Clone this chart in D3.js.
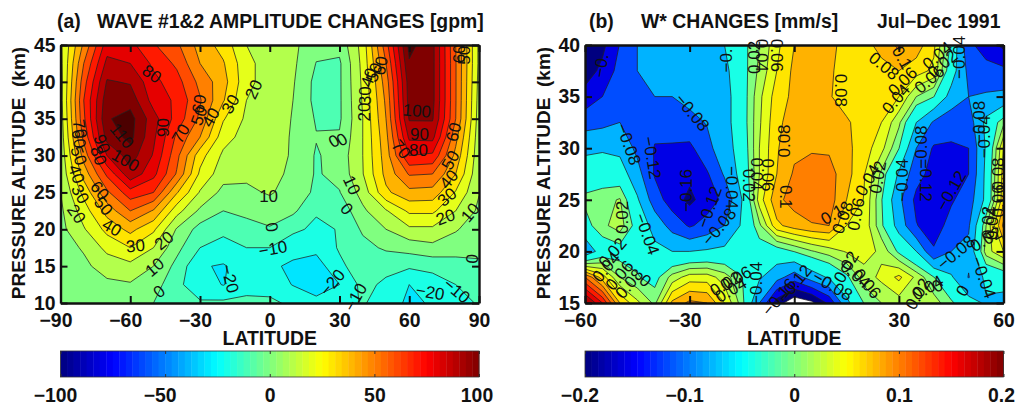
<!DOCTYPE html>
<html><head><meta charset="utf-8">
<style>html,body{margin:0;padding:0;background:#fff}svg{display:block}text{font-family:"Liberation Sans",Arial,sans-serif;fill:#111}</style>
<script src="https://cdnjs.cloudflare.com/ajax/libs/d3/7.8.5/d3.min.js"></script>
</head><body><svg id="c" width="1024" height="407"></svg>
<script>
// Panel (a): wave amplitude change, one list per latitude, bottom (10 km) to top (45 km)
const ampAlts = [10,12.5,15,17.5,20,22.5,25,27.5,30,32.5,35,37.5,40,42.5,45];
const ampLats = [-90,-80,-70,-60,-50,-40,-30,-20,-10,0,10,20,30,40,50,60,70,80,90];
const ampColumns = [
 [5,5,5,6,7,8,10,12,13,14,15,16,16,17,18],
 [6,7,8,11,19,25,33,44,54,63,68,70,66,60,52],
 [5,8,14,23,33,44,58,72,90,104,109,106,101,93,85],
 [4,9,17,30,43,60,76,97,105,113,114,106,99,90,83],
 [0,5,10,20,32,49,70,83,89,92,94,86,83,78,71],
 [-8,-8,-3,3,9,24,41,59,63,68,76,78,74,68,62],
 [-9,-15,-19,-10,-4,8,19,28,34,50,58,61,57,50,46],
 [-8,-20.5,-21,-13,-8,0,7,14,18,24,31,41,44,41,36],
 [-8,-13,-15,-10,-3,2,8,12,14,16,18,20,23,23,20],
 [-8,-14,-18,-10,-1,5,11,13,14,15,15,15,15,15,14],
 [-12,-20.5,-22,-16,-8,2,6,8,9,9,9.5,10,11,12,12.5],
 [-17,-25,-25,-17,-12,-9,-2,-1,-1,0.5,-1,-3,-3,-0.3,3],
 [-15,-20,-12,-9,-9.5,-7,-0.5,3,4,1,-1.5,-1.5,-1.5,-1.5,3],
 [-9,-7,-5,-3,1.5,8,14,19.5,20,20,20,21,22,23,24],
 [-15,-12,-7,1.5,10,19,38,43,45,47,50,52,55,60,66],
 [-22,-20,-8.5,4,18,32,47,61,80,92,101,104,105,109,113],
 [-19,-15,-7,7,18,32,46,60,78,93,101,103,103,103,103],
 [-12,-10,-4,4,11,20,29,40,47,53,60,60.5,60.5,60.5,60],
 [-9.5,-5,-1,1.5,4,8,10.5,12,13,14,15,16,17,18,18]
];
const ampLevels = [-30,-20,-10,0,10,20,30,40,50,60,70,80,90,100,110];
const ampXTicks = [-90,-60,-30,0,30,60,90];
const ampYTicks = [10,15,20,25,30,35,40,45];
const ampBarTicks = [-100,-50,0,50,100];
const ampLabels = [
 ["80",-50.6,41.1,35],["90",-46,33.8,-90],["70",-38.4,33,-60],["60",-30.5,37,-80],["50",-30.5,35.4,-70],
 ["40",-25.5,35.2,-60],["30",-17,37,-60],["20",-7,39,-65],["110",-63.5,32.7,50],["100",-62,29.4,30],
 ["90",-72,31.6,70],["80",-73.5,30,70],["70",-81.5,33.6,80],["60",-82,32.3,80],["50",-82,30,70],
 ["40",-83,27.5,70],["30",-81.4,24.8,60],["20",-83,22.1,55],["60",-73,25.3,50],["50",-71.4,23.2,50],
 ["40",-67.8,20.3,30],["30",-57.8,17.8,-5],["20",-45.6,18.5,-40],["10",-49.6,14.9,-40],["0",-47.7,11.6,-40],
 ["\u221220",-17,13.3,75],["10",-0.5,24.6,0],["0",1,20.3,80],["\u221210",1.3,17.4,-10],["\u221220",26.8,12.8,-50],
 ["\u221210",36.8,10.8,-60],["0",27.5,32,-30],["0",31,32.2,-30],["10",35.4,26,65],["0",33.2,22.8,50],
 ["20",40.3,35.9,-90],["30",41,38.1,-90],["40",42.5,40.6,-70],["50",44.7,41.3,-70],["60",47.5,42.2,-80],
 ["100",63.3,36.1,5],["90",64.4,32.9,0],["80",64,30.8,0],["70",56.6,30.9,50],["60",79,33.2,-75],
 ["50",77.6,29.4,-60],["40",76.9,26.8,-50],["30",76.2,24.4,-40],["20",75.5,21.7,-20],["10",86.2,22.3,-50],
 ["0",86.9,16,-85],["\u221220",69,11.5,10],["\u221210",80.5,11.7,40],["60",81.3,43.8,-90],["50",83.7,43.6,-90]
];

// Panel (b): W* change, one list per latitude, bottom (15 km) to top (40 km)
const wAlts = [15,17.5,20,22.5,25,27.5,30,32.5,35,37.5,40];
const wLats = [-60,-55,-50,-45,-40,-35,-30,-25,-20,-15,-10,-5,0,5,10,15,20,25,30,35,40,45,50,55,60];
const wColumns = [
 [.21,.12,-.07,-.01,.005,-.015,-.05,-.095,-.145,-.18,-.205],
 [.16,.07,-.02,.015,.012,-.015,-.045,-.09,-.12,-.15,-.17],
 [.08,.02,-.012,.03,.022,-.02,-.05,-.08,-.10,-.105,-.118],
 [.045,.002,-.01,-.012,-.035,-.065,-.09,-.095,-.09,-.08,-.08],
 [.015,-.01,-.03,-.055,-.10,-.124,-.122,-.11,-.08,-.065,-.06],
 [.085,.028,-.04,-.095,-.14,-.14,-.125,-.10,-.08,-.065,-.06],
 [.105,.05,-.04,-.125,-.17,-.15,-.13,-.09,-.07,-.06,-.06],
 [.1,.05,-.035,-.105,-.14,-.125,-.09,-.078,-.06,-.06,-.06],
 [.06,.03,-.03,-.08,-.11,-.075,-.06,-.055,-.055,-.05,-.04],
 [.01,.001,-.03,-.035,-.04,-.025,-.02,-.015,-.015,-.012,-.01],
 [-.08,-.035,-.015,.015,.05,.04,.04,.037,.035,.025,.02],
 [-.18,-.065,-.015,.075,.095,.08,.078,.075,.07,.06,.055],
 [-.23,-.1,.001,.09,.108,.103,.095,.09,.085,.085,.08],
 [-.21,-.06,.018,.098,.115,.108,.098,.095,.09,.09,.09],
 [-.15,-.035,.03,.1,.11,.108,.097,.09,.082,.083,.088],
 [-.05,-.005,.042,.06,.08,.088,.085,.083,.07,.072,.07],
 [.001,.03,.05,.055,.059,.062,.07,.07,.07,.07,.075],
 [.02,.045,.035,.005,.002,.015,.047,.06,.068,.075,.085],
 [.03,.065,-.005,-.055,-.07,-.045,.001,.025,.06,.08,.105],
 [.02,.035,-.04,-.118,-.13,-.105,-.08,-.04,.02,.07,.09],
 [.03,.001,-.115,-.14,-.14,-.135,-.125,-.085,.001,.055,.065],
 [.005,-.035,-.08,-.105,-.125,-.135,-.125,-.105,-.055,-.02,-.005],
 [-.025,-.082,-.07,-.085,-.10,-.12,-.12,-.10,-.08,-.09,-.11],
 [-.045,-.03,.03,.02,-.03,-.03,-.035,-.03,-.075,-.105,-.14],
 [-.055,-.02,.06,.105,.075,.07,.06,.015,-.07,-.11,-.17]
];
const wLevels = [-.2,-.16,-.12,-.08,-.04,0,.02,.04,.06,.08,.1,.12,.14,.16,.18];
const wXTicks = [-60,-30,0,30,60];
const wYTicks = [15,20,25,30,35,40];
const wBarTicks = [-.2,-.1,0,.1,.2];
const wLabels = [
 ["\u22120.",-55.5,38,-80],["\u22120.08",-29.2,33.5,50],["\u22120.08",-47.4,30.4,70],["\u22120.12",-40.7,29.1,80],
 ["\u22120.16",-31,25.9,-90],["\u22120.12",-24.4,24.3,-70],["\u22120.08",-21.6,22.4,-50],["\u22120.04",-42.1,21.7,70],
 ["\u22120.04",-17.7,26.2,90],["\u22120.",-19.7,38.5,-90],["0.02",-11.5,38.8,-90],["0.04",-9.1,39,90],["0.06",-4.8,39,90],
 ["0.08",-2.9,30.7,-90],["0.1",-2.4,25.3,90],["0.04",-10.6,27.5,90],["0.02",-12.8,26.4,90],["0.06",-7.4,27.4,90],
 ["0.08",13.3,35.6,90],["0.08",25.8,38,40],["0.1",31,38.8,60],["0.06",31,36.5,-45],["0.04",29.1,34.8,-50],
 ["0.02",42.5,38.2,-40],["0.04",41,39,-40],["\u22120.04",47.3,38.8,-90],["0.06",38.7,36.7,-40],
 ["\u22120.08",53,32.5,-90],["\u22120.04",54.4,31.1,-90],["\u22120.08",36.3,30.1,-90],["\u22120.12",37.7,26.9,90],
 ["\u22120.12",44.9,25.9,-60],["\u22120.04",31,26.9,-90],["\u22120.08",46.3,19.9,-40],["\u22120.04",54.4,17.5,70],
 ["0.04",21,26.9,-60],["0.02",23.9,27.2,-80],["0.1",10.9,23.6,-30],["0.08",13.8,23.3,-70],["0.06",17.6,23.6,-80],
 ["0.02",-49.3,23.3,-90],["0.02",-52.2,19.9,-50],["0.04",-54,18.5,-50],["0.06",-50.2,17.7,-50],["0.08",-47.4,16.9,-50],
 ["0",-42.6,17.2,40],["0.02",-19.7,16.9,-30],["0.04",-18.2,16.3,-30],["0.06",-16.8,17.4,-30],
 ["\u22120.04",-11,16.9,-90],["\u22120.12",0,16.9,-50],["\u22120.08",11,16.7,30],["\u22120.16",-4.4,15.6,-50],
 ["0.02",14.8,18.5,-60],["0.04",17.6,17.8,40],["0.06",21,16.9,50],["0.02",35.3,15.9,-60],["0.04",38.2,16.5,-30],
 ["0",41,16.7,-30],["0",48.2,16.2,-60],["0.02",55.4,22.8,-90],["0.04",56.8,22.7,-90],["0.02",54.9,21.2,-30],
 ["0.08",58.3,27.5,-90],["0.06",58.3,24.9,-90]
];

const clamp = v => Math.max(0, Math.min(1, v));
const jet = v => {
  const ch = c => Math.round(255 * clamp(1.5 - Math.abs(4 * v - c)));
  return `rgb(${ch(3)},${ch(2)},${ch(1)})`;
};
const svg = d3.select("#c");
const BIG = 19.4;

function panel(o) {
  const x = d3.scaleLinear().domain(d3.extent(o.lats)).range([o.left, o.left + 418.5]);
  const y = d3.scaleLinear().domain(d3.extent(o.alts)).range([303, 45]);
  const nx = o.lats.length, ny = o.alts.length;
  const flat = [];
  for (let j = 0; j < ny; j++) for (let i = 0; i < nx; i++) flat.push(o.columns[i][j]);
  const dLat = o.lats[1] - o.lats[0], dAlt = o.alts[1] - o.alts[0];
  const path = d3.geoPath(d3.geoTransform({
    point(cx, cy) {
      this.stream.point(x(o.lats[0] + (cx - 0.5) * dLat), y(o.alts[0] + (cy - 0.5) * dAlt));
    }
  }));
  const g = svg.append("g");
  const clipId = "clip" + o.id;
  svg.append("clipPath").attr("id", clipId).append("rect")
    .attr("x", x.range()[0]).attr("y", y.range()[1])
    .attr("width", x.range()[1] - x.range()[0]).attr("height", y.range()[0] - y.range()[1]);
  const plot = g.append("g").attr("clip-path", `url(#${clipId})`);
  plot.selectAll("path")
    .data(d3.contours().size([nx, ny]).thresholds(o.levels)(flat))
    .join("path")
    .attr("d", path)
    .attr("fill", d => jet((d.value - o.barDomain[0]) / (o.barDomain[1] - o.barDomain[0])))
    .attr("stroke", "#222").attr("stroke-width", 0.75).attr("stroke-linejoin", "round");

  // contour labels
  g.selectAll("text.cl").data(o.labels).join("text").attr("class", "cl")
    .attr("transform", d => `translate(${x(d[1])},${y(d[2])}) rotate(${d[3]})`)
    .attr("text-anchor", "middle").attr("dy", "0.36em")
    .attr("font-size", 17).text(d => d[0]);

  // frame and ticks on all four sides
  const styleAxis = s => {
    s.select(".domain").attr("stroke", "#111").attr("stroke-width", 2.4);
    s.selectAll(".tick line").attr("stroke", "#111").attr("stroke-width", 2);
    s.selectAll("text").attr("font-weight", "bold").attr("font-size", BIG);
  };
  const ax = g.append("g").attr("transform", "translate(0,303)")
    .call(d3.axisBottom(x).tickValues(o.xTicks).tickSizeInner(-7).tickSizeOuter(0).tickPadding(10)
      .tickFormat(d => d < 0 ? "\u2212" + (-d) : d)).call(styleAxis);
  ax.selectAll("text").attr("dx", d => d < 0 ? -5 : 0);
  g.append("g").attr("transform", "translate(0,45)")
    .call(d3.axisTop(x).tickValues(o.xTicks).tickSizeInner(-7).tickSizeOuter(0).tickFormat("")).call(styleAxis);
  g.append("g").attr("transform", `translate(${x.range()[0]},0)`)
    .call(d3.axisLeft(y).tickValues(o.yTicks).tickSizeInner(-7).tickSizeOuter(0).tickPadding(5)).call(styleAxis);
  g.append("g").attr("transform", `translate(${x.range()[1]},0)`)
    .call(d3.axisRight(y).tickValues(o.yTicks).tickSizeInner(-7).tickSizeOuter(0).tickFormat("")).call(styleAxis);

  // axis titles
  g.append("text").attr("x", (x.range()[0] + x.range()[1]) / 2).attr("y", 345)
    .attr("text-anchor", "middle").attr("font-weight", "bold").attr("font-size", BIG).text("LATITUDE");
  g.append("text").attr("transform", `translate(${o.left - 35.5},173) rotate(-90)`)
    .attr("text-anchor", "middle").attr("font-weight", "bold").attr("font-size", 19)
    .text("PRESSURE ALTITUDE\u00a0\u00a0(km)");

  // colour bar
  const bar = d3.scaleLinear().domain(o.barDomain).range(x.range());
  const barG = g.append("g");
  const steps = d3.range(64);
  const w = (o.barDomain[1] - o.barDomain[0]) / 64;
  barG.selectAll("rect").data(steps).join("rect")
    .attr("x", i => bar(o.barDomain[0] + i * w)).attr("y", 351)
    .attr("width", (x.range()[1] - x.range()[0]) / 64 + 0.4).attr("height", 26)
    .attr("fill", i => jet((i + 0.5) / 64));
  barG.append("rect").attr("x", x.range()[0]).attr("y", 351)
    .attr("width", x.range()[1] - x.range()[0]).attr("height", 26)
    .attr("fill", "none").attr("stroke", "#333").attr("stroke-width", 0.8);
  const barAxis = barG.append("g").attr("transform", "translate(0,377)")
    .call(d3.axisBottom(bar).tickValues(o.barTicks).tickSizeInner(-3).tickSizeOuter(0).tickPadding(11)
      .tickFormat(d => (d < 0 ? "\u2212" : "") + Math.abs(d)));
  barAxis.select(".domain").remove();
  barAxis.selectAll(".tick line").attr("stroke", "#333");
  barAxis.selectAll("text").attr("font-weight", "bold").attr("font-size", BIG)
    .attr("dx", d => d < 0 ? -5.5 : (d === o.barDomain[1] ? -2.5 : 0));
  barG.append("g").attr("transform", "translate(0,351)")
    .call(d3.axisTop(bar).tickValues(o.barTicks).tickSizeInner(-3).tickSizeOuter(0).tickFormat(""))
    .call(s => { s.select(".domain").remove(); s.selectAll(".tick line").attr("stroke", "#333"); });

  // titles
  g.selectAll("text.ti").data(o.titles).join("text").attr("class", "ti")
    .attr("x", d => d[1]).attr("y", 28).attr("font-weight", "bold").attr("font-size", BIG).text(d => d[0]);
}

panel({id:"a", left:60.5, lats:ampLats, alts:ampAlts, columns:ampColumns, levels:ampLevels,
  xTicks:ampXTicks, yTicks:ampYTicks, barTicks:ampBarTicks, barDomain:[-100,100], labels:ampLabels,
  titles:[["(a)",57],["WAVE #1&2 AMPLITUDE CHANGES [gpm]",97]]});
panel({id:"b", left:585, lats:wLats, alts:wAlts, columns:wColumns, levels:wLevels,
  xTicks:wXTicks, yTicks:wYTicks, barTicks:wBarTicks, barDomain:[-.2,.2], labels:wLabels,
  titles:[["(b)",589],["W* CHANGES [mm/s]",641],["Jul\u2212Dec 1991",877]]});
</script></body></html>
